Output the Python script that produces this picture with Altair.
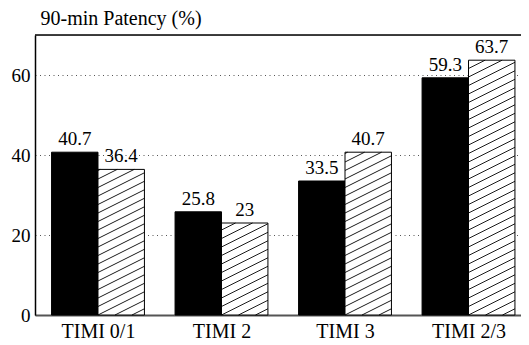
import altair as alt
import pandas as pd

# ---- data ----
categories = ["TIMI 0/1", "TIMI 2", "TIMI 3", "TIMI 2/3"]
series_solid = [40.7, 25.8, 33.5, 59.3]
series_hatched = [36.4, 23, 40.7, 63.7]
y_ticks = [0, 20, 40, 60]
y_title = "90-min Patency (%)"

# ---- layout / style ----
FONT = "Liberation Serif"
WIDTH, HEIGHT = 486, 280
X_DOMAIN = [-0.51, 3.425]
Y_DOMAIN = [0, 70]
HALF = 0.376          # width of one bar in category units
HATCH_SLOPE_PX = 0.5  # rise per pixel of the hatch lines
HATCH_GAP_PX = 8.5    # vertical spacing of hatch lines in pixels

rows = []
for i, cat in enumerate(categories):
    rows.append(dict(cat=cat, idx=i, series="solid", value=series_solid[i], x0=i - HALF, x1=i))
    rows.append(dict(cat=cat, idx=i, series="hatched", value=series_hatched[i], x0=i, x1=i + HALF))
bars = pd.DataFrame(rows)
bars["xm"] = (bars["x0"] + bars["x1"]) / 2
bars["label"] = bars["value"].map(lambda v: f"{v:g}")

# hatch segments, clipped to each hatched bar (in data units)
px_x = WIDTH / (X_DOMAIN[1] - X_DOMAIN[0])
px_y = HEIGHT / (Y_DOMAIN[1] - Y_DOMAIN[0])
slope = HATCH_SLOPE_PX * px_x / px_y
gap = HATCH_GAP_PX / px_y
segs = []
for r in bars[bars["series"] == "hatched"].itertuples():
    w = r.x1 - r.x0
    k = -int(slope * w / gap) - 1
    while k * gap < r.value:
        c = k * gap
        if c >= 0:
            xs, ys = r.x0, c
        else:
            xs, ys = r.x0 + (-c) / slope, 0.0
        ye_full = c + slope * w
        if ye_full <= r.value:
            xe, ye = r.x1, ye_full
        else:
            xe, ye = r.x0 + (r.value - c) / slope, r.value
        if xe > xs + 1e-6 and xs < r.x1:
            segs.append(dict(xs=xs, ys=ys, xe=xe, ye=ye))
        k += 1
hatch = pd.DataFrame(segs)

label_expr = "[" + ",".join(f"'{c}'" for c in categories) + "][datum.value]"

x_scale = alt.Scale(domain=X_DOMAIN, nice=False, zero=False)
y_scale = alt.Scale(domain=Y_DOMAIN, nice=False)

x_axis = alt.Axis(values=[0, 1, 2, 3], labelExpr=label_expr, title=None,
                  grid=False, ticks=False, tickSize=0, labelPadding=6,
                  labelFont=FONT, labelFontSize=20, labelColor="black",
                  domainColor="#555", domainWidth=2, labelBaseline="top")
y_axis = alt.Axis(values=y_ticks, title=y_title, titleAngle=0, titleX=5, titleY=-11,
                  titleAlign="left", titleBaseline="alphabetic", titleFont=FONT,
                  titleFontSize=20, titleFontWeight="normal", titleColor="black",
                  labelFont=FONT, labelFontSize=19, labelColor="black",
                  labelPadding=5, ticks=False, tickSize=0,
                  domainColor="black", domainWidth=1.5,
                  grid=True, gridColor="#555", gridDash=[1, 3.5], gridWidth=1)

base = alt.Chart(bars)

bar_layer = base.mark_rect(stroke="black", strokeWidth=1).encode(
    x=alt.X("x0:Q", scale=x_scale, axis=x_axis),
    x2="x1:Q",
    y=alt.Y("value:Q", scale=y_scale, axis=y_axis),
    y2=alt.datum(0),
    fill=alt.Fill("series:N", scale=alt.Scale(domain=["solid", "hatched"], range=["black", "white"]),
                  legend=None),
)

hatch_layer = alt.Chart(hatch).mark_rule(color="black", strokeWidth=0.9).encode(
    x=alt.X("xs:Q", scale=x_scale, axis=x_axis),
    x2="xe:Q",
    y=alt.Y("ys:Q", scale=y_scale, axis=y_axis),
    y2="ye:Q",
)

text_layer = base.mark_text(font=FONT, fontSize=19, baseline="alphabetic", dy=-7, color="black").encode(
    x=alt.X("xm:Q", scale=x_scale, axis=x_axis),
    y=alt.Y("value:Q", scale=y_scale, axis=y_axis),
    text="label:N",
)

top_rule = alt.Chart(alt.Data(values=[{}])).mark_rule(color="black", strokeWidth=1.3).encode(
    y=alt.datum(Y_DOMAIN[1], scale=y_scale, axis=y_axis),
)

chart = alt.layer(bar_layer, hatch_layer, text_layer, top_rule).properties(
    width=WIDTH, height=HEIGHT,
    autosize=alt.AutoSizeParams(type="none"),
    padding={"left": 27, "top": 27, "right": 0, "bottom": 30},
).configure_view(stroke=None).configure(background="white").configure_axis(
    titleFont=FONT, labelFont=FONT
).configure_text(font=FONT)

chart.save("out.html", embed_options={"renderer": "svg", "actions": False})
